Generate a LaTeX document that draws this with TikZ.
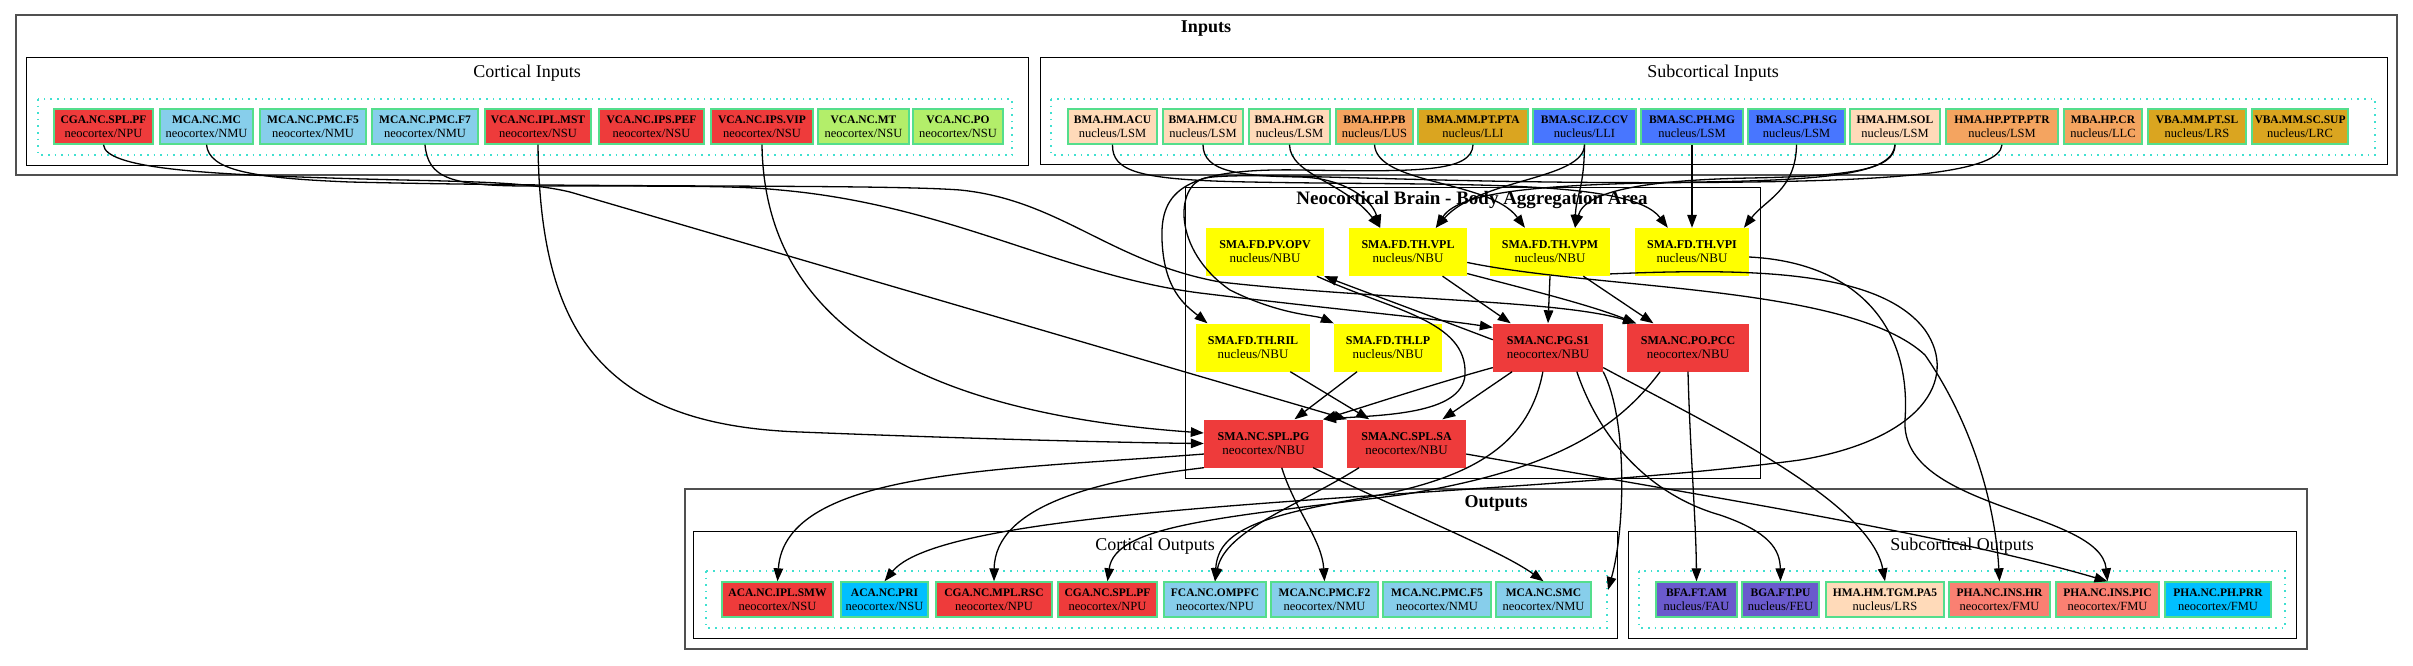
\documentclass[tikz,border=0pt]{standalone}
\usepackage{fontspec}
\setmainfont{Liberation Serif}
\usetikzlibrary{arrows.meta}
\definecolor{cred}{HTML}{EE3B3B}
\definecolor{csky}{HTML}{87CEEB}
\definecolor{cgreen}{HTML}{B3EE6A}
\definecolor{cpeach}{HTML}{FFDAB9}
\definecolor{csandy}{HTML}{F4A460}
\definecolor{cgold}{HTML}{DAA520}
\definecolor{croyal}{HTML}{4876FF}
\definecolor{cyel}{HTML}{FFFF00}
\definecolor{cdsky}{HTML}{00BFFF}
\definecolor{cslate}{HTML}{6A5ACD}
\definecolor{csalmon}{HTML}{FA8072}
\definecolor{cborder}{HTML}{54DE8C}
\definecolor{cdot}{HTML}{40E0D0}
\definecolor{cclus}{HTML}{505050}
\newcommand\tl[2]{{\fontsize{11.5}{14}\selectfont\bfseries #1}\\#2}
\newcommand\tlb[2]{{\fontsize{12}{14}\selectfont\bfseries #1}\\#2}
\tikzset{
  nb/.style={draw=cborder, line width=1.4pt, inner sep=0pt, align=center, font=\fontsize{12.5}{14}\selectfont, minimum height=35pt},
  nc/.style={draw=none, inner sep=0pt, align=center, font=\fontsize{13}{14}\selectfont, minimum height=48pt},
  clus/.style={draw=black, line width=1pt},
  outerclus/.style={draw=cclus, line width=1.6pt},
  dotbox/.style={draw=cdot, line width=1.6pt, dash pattern=on 1.6pt off 5pt},
  ttl/.style={font=\fontsize{18}{20}\selectfont, inner sep=0pt},
  bttl/.style={font=\fontsize{18}{20}\selectfont\bfseries, inner sep=0pt},
  bigttl/.style={font=\fontsize{19}{21}\selectfont\bfseries, inner sep=0pt},
  e/.style={draw=black, line width=1.3pt, -{Triangle[length=13pt,width=9.5pt]}}
}
\begin{document}
\begin{tikzpicture}[x=1pt,y=-1pt]
\useasboundingbox[fill=white] (0,0) rectangle (2413,665);
% clusters
\draw[outerclus] (16,15) rectangle (2397,175);
\node[bttl] (tin) at (1206,29) {Inputs};
\draw[clus] (26,57) rectangle (1028,165);
\node[ttl] (tci) at (527,73) {Cortical Inputs};
\draw[dotbox] (38,99) rectangle (1012,155);
\draw[clus] (1040,57) rectangle (2387,164);
\node[ttl] (tsi) at (1713,73) {Subcortical Inputs};
\draw[dotbox] (1051,99) rectangle (2375,155);
\draw[clus] (1185,187) rectangle (1760,478);
\node[bigttl] (tnc) at (1472,200) {Neocortical Brain - Body Aggregation Area};
\draw[outerclus] (685,489) rectangle (2307,649);
\node[bttl] (tout) at (1496,503) {Outputs};
\draw[clus] (693,531) rectangle (1617,638);
\node[ttl] (tco) at (1155,546) {Cortical Outputs};
\draw[dotbox] (706,571) rectangle (1607,628);
\draw[clus] (1628,531) rectangle (2296,638);
\node[ttl] (tso) at (1962,546) {Subcortical Outputs};
\draw[dotbox] (1639,571) rectangle (2285,628);
% cortical inputs
\node[nb,fill=cred,minimum width=99pt] (ci1) at (103.5,126.5) {\tl{CGA.NC.SPL.PF}{neocortex/NPU}};
\node[nb,fill=csky,minimum width=93pt] (ci2) at (206.5,126.5) {\tl{MCA.NC.MC}{neocortex/NMU}};
\node[nb,fill=csky,minimum width=106pt] (ci3) at (313,126.5) {\tl{MCA.NC.PMC.F5}{neocortex/NMU}};
\node[nb,fill=csky,minimum width=106pt] (ci4) at (425,126.5) {\tl{MCA.NC.PMC.F7}{neocortex/NMU}};
\node[nb,fill=cred,minimum width=106pt] (ci5) at (538,126.5) {\tl{VCA.NC.IPL.MST}{neocortex/NSU}};
\node[nb,fill=cred,minimum width=105pt] (ci6) at (651.5,126.5) {\tl{VCA.NC.IPS.PEF}{neocortex/NSU}};
\node[nb,fill=cred,minimum width=102pt] (ci7) at (762,126.5) {\tl{VCA.NC.IPS.VIP}{neocortex/NSU}};
\node[nb,fill=cgreen,minimum width=91pt] (ci8) at (863.5,126.5) {\tl{VCA.NC.MT}{neocortex/NSU}};
\node[nb,fill=cgreen,minimum width=90pt] (ci9) at (958,126.5) {\tl{VCA.NC.PO}{neocortex/NSU}};
% subcortical inputs
\node[nb,fill=cpeach,minimum width=89pt] (s1) at (1112.5,126.5) {\tl{BMA.HM.ACU}{nucleus/LSM}};
\node[nb,fill=cpeach,minimum width=80pt] (s2) at (1203,126.5) {\tl{BMA.HM.CU}{nucleus/LSM}};
\node[nb,fill=cpeach,minimum width=81pt] (s3) at (1289.5,126.5) {\tl{BMA.HM.GR}{nucleus/LSM}};
\node[nb,fill=csandy,minimum width=77pt] (s4) at (1374.5,126.5) {\tl{BMA.HP.PB}{nucleus/LUS}};
\node[nb,fill=cgold,minimum width=110pt] (s5) at (1473,126.5) {\tl{BMA.MM.PT.PTA}{nucleus/LLI}};
\node[nb,fill=croyal,minimum width=103pt] (s6) at (1584.5,126.5) {\tl{BMA.SC.IZ.CCV}{nucleus/LLI}};
\node[nb,fill=croyal,minimum width=102pt] (s7) at (1692,126.5) {\tl{BMA.SC.PH.MG}{nucleus/LSM}};
\node[nb,fill=croyal,minimum width=97pt] (s8) at (1796.5,126.5) {\tl{BMA.SC.PH.SG}{nucleus/LSM}};
\node[nb,fill=cpeach,minimum width=90pt] (s9) at (1895,126.5) {\tl{HMA.HM.SOL}{nucleus/LSM}};
\node[nb,fill=csandy,minimum width=112pt] (s10) at (2002,126.5) {\tl{HMA.HP.PTP.PTR}{nucleus/LSM}};
\node[nb,fill=csandy,minimum width=78pt] (s11) at (2103,126.5) {\tl{MBA.HP.CR}{nucleus/LLC}};
\node[nb,fill=cgold,minimum width=98pt] (s12) at (2197,126.5) {\tl{VBA.MM.PT.SL}{nucleus/LRS}};
\node[nb,fill=cgold,minimum width=96pt] (s13) at (2300,126.5) {\tl{VBA.MM.SC.SUP}{nucleus/LRC}};
% neocortical
\node[nc,fill=cyel,minimum width=118pt] (n1) at (1265,252) {\tlb{SMA.FD.PV.OPV}{nucleus/NBU}};
\node[nc,fill=cyel,minimum width=118pt] (n2) at (1408,252) {\tlb{SMA.FD.TH.VPL}{nucleus/NBU}};
\node[nc,fill=cyel,minimum width=120pt] (n3) at (1550,252) {\tlb{SMA.FD.TH.VPM}{nucleus/NBU}};
\node[nc,fill=cyel,minimum width=114pt] (n4) at (1692,252) {\tlb{SMA.FD.TH.VPI}{nucleus/NBU}};
\node[nc,fill=cyel,minimum width=114pt] (n5) at (1253,347.5) {\tlb{SMA.FD.TH.RIL}{nucleus/NBU}};
\node[nc,fill=cyel,minimum width=108pt] (n6) at (1388,347.5) {\tlb{SMA.FD.TH.LP}{nucleus/NBU}};
\node[nc,fill=cred,minimum width=110pt] (n7) at (1548,347.5) {\tlb{SMA.NC.PG.S1}{neocortex/NBU}};
\node[nc,fill=cred,minimum width=122pt] (n8) at (1688,347.5) {\tlb{SMA.NC.PO.PCC}{neocortex/NBU}};
\node[nc,fill=cred,minimum width=119pt] (n9) at (1263.5,443.5) {\tlb{SMA.NC.SPL.PG}{neocortex/NBU}};
\node[nc,fill=cred,minimum width=119pt] (n10) at (1406.5,443.5) {\tlb{SMA.NC.SPL.SA}{neocortex/NBU}};
% cortical outputs
\node[nb,fill=cred,minimum width=111pt] (o1) at (777.5,599.5) {\tl{ACA.NC.IPL.SMW}{neocortex/NSU}};
\node[nb,fill=cdsky,minimum width=87pt] (o2) at (884.5,599.5) {\tl{ACA.NC.PRI}{neocortex/NSU}};
\node[nb,fill=cred,minimum width=116pt] (o3) at (994,599.5) {\tl{CGA.NC.MPL.RSC}{neocortex/NPU}};
\node[nb,fill=cred,minimum width=99pt] (o4) at (1107.5,599.5) {\tl{CGA.NC.SPL.PF}{neocortex/NPU}};
\node[nb,fill=csky,minimum width=102pt] (o5) at (1215,599.5) {\tl{FCA.NC.OMPFC}{neocortex/NPU}};
\node[nb,fill=csky,minimum width=107pt] (o6) at (1324.5,599.5) {\tl{MCA.NC.PMC.F2}{neocortex/NMU}};
\node[nb,fill=csky,minimum width=108pt] (o7) at (1437,599.5) {\tl{MCA.NC.PMC.F5}{neocortex/NMU}};
\node[nb,fill=csky,minimum width=95pt] (o8) at (1543.5,599.5) {\tl{MCA.NC.SMC}{neocortex/NMU}};
% subcortical outputs
\node[nb,fill=cslate,minimum width=81pt] (p1) at (1696.5,599.5) {\tl{BFA.FT.AM}{nucleus/FAU}};
\node[nb,fill=cslate,minimum width=77pt] (p2) at (1780.5,599.5) {\tl{BGA.FT.PU}{nucleus/FEU}};
\node[nb,fill=cpeach,minimum width=118pt] (p3) at (1885,599.5) {\tl{HMA.HM.TGM.PA5}{nucleus/LRS}};
\node[nb,fill=csalmon,minimum width=101pt] (p4) at (1999.5,599.5) {\tl{PHA.NC.INS.HR}{neocortex/FMU}};
\node[nb,fill=csalmon,minimum width=103pt] (p5) at (2107.5,599.5) {\tl{PHA.NC.INS.PIC}{neocortex/FMU}};
\node[nb,fill=cdsky,minimum width=106pt] (p6) at (2218,599.5) {\tl{PHA.NC.PH.PRR}{neocortex/FMU}};
\coordinate (coc) at (1608,590);
% edges: cortical inputs
\draw[e] (ci1.south) .. controls (105,168) and (200,174) .. (330,178) .. controls (450,182) and (520,180) .. (570,192) -- (n10.north west);
\draw[e] (ci2.south) .. controls (209,170) and (250,178) .. (350,182) .. controls (600,188) and (880,184) .. (960,190) .. controls (1060,200) and (1110,262) .. (1220,282) .. controls (1380,300) and (1560,300) .. (n8.155);
\draw[e] (ci4.south) .. controls (428,178) and (450,186) .. (530,186) .. controls (700,186) and (740,186) .. (780,190) .. controls (950,205) and (1060,275) .. (1200,293) .. controls (1340,310) and (1430,318) .. (n7.160);
\draw[e] (ci5.south) .. controls (540,330) and (600,425) .. (800,432) .. controls (1000,440) and (1150,443) .. (n9.west);
\draw[e] (ci7.south) .. controls (764,300) and (880,410) .. (n9.170);
% edges: subcortical inputs
\draw[e] (s1.south) .. controls (1112,172) and (1140,180) .. (1250,182) .. controls (1450,186) and (1630,178) .. (n4.135);
\draw[e] (s2.south) .. controls (1203,172) and (1240,176) .. (1300,177) .. controls (1345,178) and (1372,200) .. (n2.139);
\draw[e] (s3.south) .. controls (1290,175) and (1345,182) .. (n2.139);
\draw[e] (s4.south) .. controls (1377,185) and (1490,180) .. (n3.136);
\draw[e] (s5.south) .. controls (1472,172) and (1420,172) .. (1300,170) .. controls (1185,168) and (1160,190) .. (1162,240) .. controls (1164,290) and (1185,305) .. (n5.152);
\draw[e] (s6.south) .. controls (1584,180) and (1480,178) .. (n2.41);
\draw[e] (s6.south) .. controls (1584,190) and (1576,195) .. (n3.44);
\draw[e] (s7.south) -- (n4.north);
\draw[e] (s8.south) .. controls (1796,190) and (1765,200) .. (n4.25);
\draw[e] (s9.south) .. controls (1895,170) and (1850,176) .. (1750,178) .. controls (1650,180) and (1585,190) .. (n3.44);
\draw[e] (s9.south) .. controls (1893,172) and (1840,180) .. (1700,182) .. controls (1550,184) and (1460,190) .. (n2.41);
\draw[e] (s10.south) .. controls (2000,172) and (1900,180) .. (1750,182) .. controls (1450,186) and (1250,170) .. (1205,178) .. controls (1175,185) and (1172,250) .. (1230,290) .. controls (1280,315) and (1315,315) .. (n6.north west);
% edges: inside neocortical area
\draw[e] (n2.-35) -- (n7.147);
\draw[e] (n2.-20) .. controls (1530,290) and (1590,305) .. (n8.155);
\draw[e] (n3.south) -- (n7.north);
\draw[e] (n3.-36) -- (n8.145);
\draw[e] (n7.172) .. controls (1420,312) and (1360,290) .. (n1.south east);
\draw[e] (n1.-25) .. controls (1390,310) and (1468,320) .. (1465,375) .. controls (1462,415) and (1380,415) .. (n9.north east);
\draw[e] (n7.200) .. controls (1430,385) and (1370,405) .. (n9.north east);
\draw[e] (n5.-33) -- (n10.147);
\draw[e] (n6.-142) -- (n9.38);
\draw[e] (n7.-146) -- (n10.34);
% edges: outputs
\draw[e] (n9.-53) .. controls (1295,510) and (1322,540) .. (o6.north);
\draw[e] (n9.-26) .. controls (1400,510) and (1500,550) .. (o8.north);
\draw[e] (n10.-153) .. controls (1300,505) and (1225,530) .. (o5.north);
\draw[e] (n7.-102) .. controls (1530,440) and (1480,475) .. (1380,495) .. controls (1260,515) and (1218,530) .. (o5.north);
\draw[e] (n9.190) .. controls (1000,470) and (785,470) .. (o1.north);
\draw[e] (n9.south west) .. controls (1100,480) and (995,505) .. (o3.north);
\draw[e] (n3.-20) .. controls (1750,268) and (1880,270) .. (1925,330) .. controls (1960,380) and (1920,440) .. (1800,460) .. controls (1500,500) and (950,500) .. (o2.north);
\draw[e] (n8.-139) .. controls (1620,425) and (1560,470) .. (1400,495) .. controls (1220,518) and (1115,525) .. (o4.north);
\draw[e] (n7.south east) .. controls (1628,420) and (1625,530) .. (coc);
\draw[e] (n7.-40) .. controls (1600,440) and (1650,495) .. (1720,515) .. controls (1770,532) and (1780,550) .. (p2.north);
\draw[e] (n7.-20) .. controls (1700,420) and (1870,500) .. (p3.north);
\draw[e] (n8.south) .. controls (1690,450) and (1696,520) .. (p1.north);
\draw[e] (n2.-10) .. controls (1600,290) and (1850,285) .. (1925,355) .. controls (1970,420) and (1995,500) .. (p4.north);
\draw[e] (n4.-5) .. controls (1850,262) and (1912,320) .. (1905,420) .. controls (1900,510) and (2100,510) .. (p5.north);
\draw[e] (n10.-10) .. controls (1700,495) and (1950,535) .. (p5.north);
\end{tikzpicture}
\end{document}
